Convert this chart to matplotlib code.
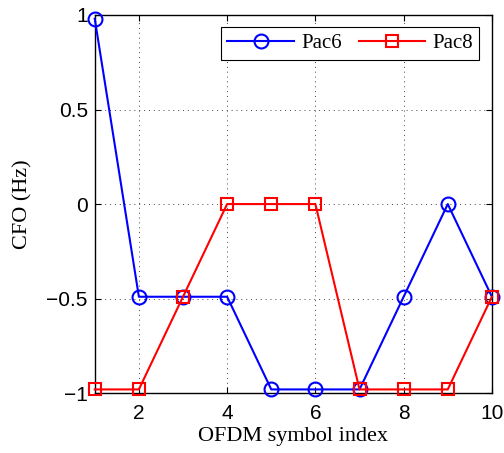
import matplotlib
matplotlib.use("Agg")
import matplotlib.pyplot as plt

x = [1, 2, 3, 4, 5, 6, 7, 8, 9, 10]
pac6 = [0.98, -0.49, -0.49, -0.49, -0.98, -0.98, -0.98, -0.49, 0.0, -0.49]
pac8 = [-0.98, -0.98, -0.49, 0.0, 0.0, 0.0, -0.98, -0.98, -0.98, -0.49]
xticks = [2, 4, 6, 8, 10]
yticks = [-1, -0.5, 0, 0.5, 1]
yticklabels = ["\u22121", "\u22120.5", "0", "0.5", "1"]

fig = plt.figure(figsize=(5.04, 4.53), dpi=100)
ax = fig.add_axes([0.188, 0.132, 0.788, 0.835])
ax.plot(x, pac6, color="blue", lw=1.5, marker="o", ms=10, mfc="none", mew=1.5, label="Pac6", clip_on=False, zorder=3)
ax.plot(x, pac8, color="red", lw=1.5, marker="s", ms=8.5, mfc="none", mew=1.5, label="Pac8", clip_on=False, zorder=3)
ax.set_xlim(1, 10)
ax.set_ylim(-1, 1)
ax.set_xticks(xticks)
ax.set_yticks(yticks)
ax.set_yticklabels(yticklabels)
ax.tick_params(direction="in", length=4, labelsize=15, top=True, right=True, width=0.8, pad=5)
ax.tick_params(axis="x", pad=8)
for lab in ax.get_xticklabels() + ax.get_yticklabels():
    lab.set_fontfamily("Liberation Sans")
ax.grid(True, linestyle=(0, (1, 4)), color="#444444", lw=0.7)
for s in ax.spines.values():
    s.set_linewidth(1.0)
ax.set_xlabel("OFDM symbol index", fontfamily="Liberation Serif", fontsize=16, labelpad=3)
ax.set_ylabel("CFO (Hz)", fontfamily="Liberation Serif", fontsize=16, labelpad=10)
leg = ax.legend(loc="upper right", ncol=2, prop={"family": "Liberation Serif", "size": 15},
                fancybox=False, edgecolor="black", framealpha=1, handlelength=3.2,
                columnspacing=0.8, handletextpad=0.35, borderaxespad=0.6, borderpad=0.3)
leg.get_frame().set_linewidth(0.8)
fig.savefig("out.png", dpi=100)
